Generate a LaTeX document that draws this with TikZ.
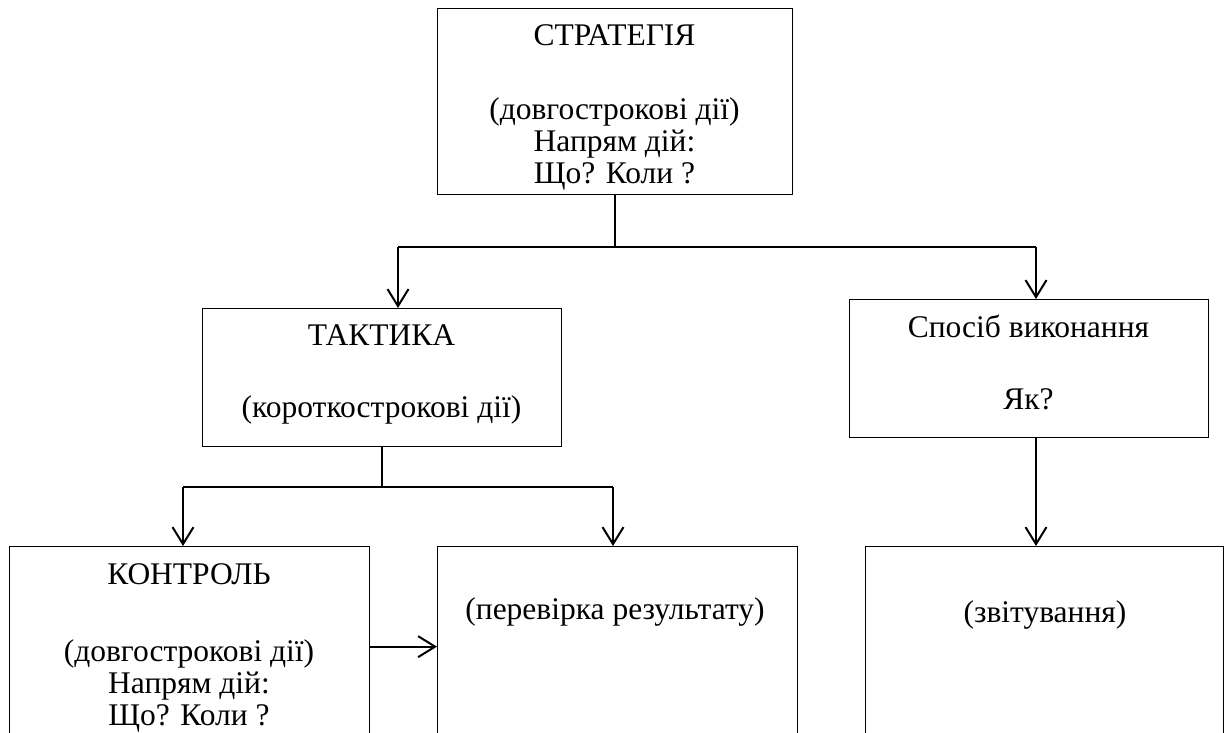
\documentclass[tikz,border=0pt]{standalone}
\usepackage{fontspec}
\setmainfont{Liberation Serif}
\usetikzlibrary{arrows.meta}
\begin{document}
\begin{tikzpicture}[x=1pt,y=-1pt,
  box/.style={draw, line width=1.3pt, rectangle, inner sep=0pt, anchor=north west},
  txt/.style={anchor=base, inner sep=0pt, font=\fontsize{31.5}{36}\selectfont},
  link/.style={line width=2pt},
  arr/.style={link, -{Straight Barb[length=17pt,width=21pt,line width=2pt]}}]
\useasboundingbox (0,0) rectangle (1224,733);
\clip (0,0) rectangle (1224,733);

% boxes
\node[box, minimum width=355pt, minimum height=186pt] (strat) at (437,8) {};
\node[box, minimum width=359pt, minimum height=138pt] (tact)  at (202,308) {};
\node[box, minimum width=359pt, minimum height=138pt] (spos)  at (849,299) {};
\node[box, minimum width=360pt, minimum height=200pt] (kont)  at (9,546) {};
\node[box, minimum width=360pt, minimum height=200pt] (perev) at (437,546) {};
\node[box, minimum width=358pt, minimum height=200pt] (zvit)  at (865,546) {};

% texts
\node[txt] (s1) at (614.5,46)  {СТРАТЕГІЯ};
\node[txt] (s2) at (614.5,120) {(довгострокові дії)};
\node[txt] (s3) at (614.5,152) {Напрям дій:};
\node[txt] (s4) at (614.5,184) {Що? Коли ?};

\node[txt] (t1) at (381.5,345) {ТАКТИКА};
\node[txt] (t2) at (381.5,417) {(короткострокові дії)};

\node[txt] (p1) at (1028.5,337) {Спосіб виконання};
\node[txt] (p2) at (1028.5,409) {Як?};

\node[txt] (k1) at (189,584) {КОНТРОЛЬ};
\node[txt] (k2) at (189,661) {(довгострокові дії)};
\node[txt] (k3) at (189,693) {Напрям дій:};
\node[txt] (k4) at (189,725) {Що? Коли ?};

\node[txt] (r1) at (615,619) {(перевірка результату)};
\node[txt] (z1) at (1045,622) {(звітування)};

% branch below the strategy box
\coordinate (sL) at (398,246.7);
\coordinate (sR) at (1036,246.7);
\draw[link] (strat.south) -- (strat.south |- sL);
\draw[link] (sL) -- (sR);
\draw[arr] (sL) -- (sL |- tact.north);
\draw[arr] (sR) -- (sR |- spos.north);

% branch below the tactics box
\coordinate (tL) at (183,487);
\coordinate (tR) at (613,487);
\draw[link] (tact.south) -- (tact.south |- tL);
\draw[link] (tL) -- (tR);
\draw[arr] (tL) -- (tL |- kont.north);
\draw[arr] (tR) -- (tR |- perev.north);

% remaining links
\draw[arr] (kont.east) -- (perev.west);
\draw[arr] (sR |- spos.south) -- (sR |- zvit.north);
\end{tikzpicture}
\end{document}
